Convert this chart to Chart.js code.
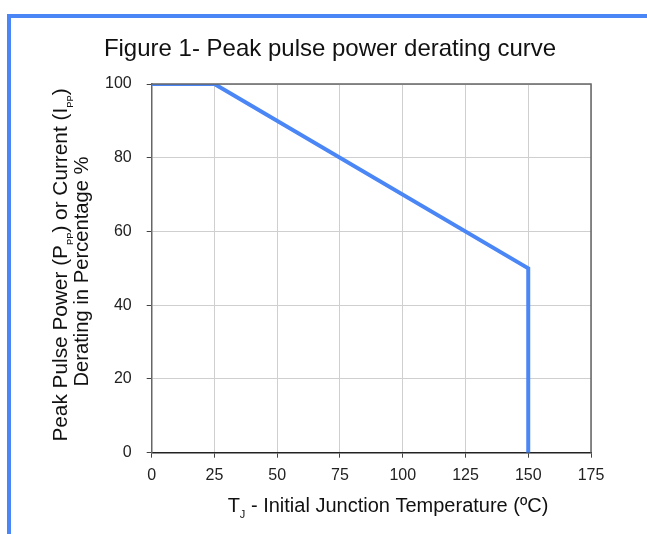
<!DOCTYPE html>
<html>
<head>
<meta charset="utf-8">
<script src="https://cdn.jsdelivr.net/npm/chart.js@4"></script>
<style>
  html, body { margin: 0; padding: 0; background: #fff; }
  #wrap { position: relative; width: 647px; height: 534px; }
  #frame { position: absolute; left: 7px; top: 14px; right: 0; bottom: 0;
           border-top: 4px solid #4a86f5; border-left: 4px solid #4a86f5; }
  canvas { position: absolute; left: 0; top: 0; }
</style>
</head>
<body>
<div id="wrap">
  <div id="frame"></div>
  <canvas id="chart" width="647" height="534"></canvas>
</div>
<script>
// derating curve
const tempC = [0, 25, 150, 150];
const deratingPct = [100, 100, 50, 0];
const xTicks = [0, 25, 50, 75, 100, 125, 150, 175];
const yTicks = [0, 20, 40, 60, 80, 100];

const FONT = '"Liberation Sans", Arial, sans-serif';

// text with subscripts: parts = [[text, subScale], ...], 0 = normal
function drawRich(ctx, parts, x, y, size) {
    let total = 0;
    parts.forEach(p => {
        ctx.font = (p[1] ? size * p[1] : size) + 'px ' + FONT;
        total += ctx.measureText(p[0]).width;
    });
    let cx = x - total / 2;
    parts.forEach(p => {
        ctx.font = (p[1] ? size * p[1] : size) + 'px ' + FONT;
        ctx.fillText(p[0], cx, p[1] ? y + size * 0.3 : y);
        cx += ctx.measureText(p[0]).width;
    });
}

const labelsPlugin = {
    id: 'labels',
    afterDraw(chart) {
        const ctx = chart.ctx;
        const a = chart.chartArea;
        ctx.save();
        // box around plot
        ctx.strokeStyle = '#666';
        ctx.lineWidth = 1.5;
        ctx.beginPath();
        ctx.moveTo(a.left, a.top);
        ctx.lineTo(a.right, a.top);
        ctx.lineTo(a.right, a.bottom);
        ctx.stroke();

        ctx.fillStyle = '#111';
        ctx.textBaseline = 'alphabetic';
        ctx.textAlign = 'left';
        drawRich(ctx, [['Figure 1- Peak pulse power derating curve', 0]], 330, 56, 24);
        drawRich(ctx, [['T', 0], ['J', 0.55], [' - Initial Junction Temperature (ºC)', 0]], 388, 512, 20);

        ctx.save();
        ctx.translate(67, 265);
        ctx.rotate(-Math.PI / 2);
        drawRich(ctx, [['Peak Pulse Power (P', 0], ['PP', 0.45], [') or Current (I', 0], ['PP', 0.45], [')', 0]], 0, 0, 20.8);
        ctx.restore();
        ctx.save();
        ctx.translate(88, 271.5);
        ctx.rotate(-Math.PI / 2);
        drawRich(ctx, [['Derating in Percentage %', 0]], 0, 0, 20.2);
        ctx.restore();
        ctx.restore();
    }
};

new Chart(document.getElementById('chart'), {
    type: 'scatter',
    data: {
        datasets: [{
            data: tempC.map((t, i) => ({ x: t, y: deratingPct[i] })),
            showLine: true,
            borderColor: '#4a86f5',
            borderWidth: 4,
            pointRadius: 0,
            tension: 0
        }]
    },
    options: {
        responsive: false,
        animation: false,
        layout: { padding: { top: 84, right: 56, left: 0, bottom: 0 } },
        plugins: { legend: { display: false }, tooltip: { enabled: false } },
        scales: {
            x: {
                type: 'linear',
                min: 0, max: 175,
                afterFit: s => { s.height = 81.3; },
                afterBuildTicks: s => { s.ticks = xTicks.map(v => ({ value: v })); },
                grid: { color: '#cfcfcf', tickColor: '#444', tickLength: 5 },
                border: { color: '#222', width: 1.5 },
                ticks: { color: '#222', padding: 8, maxRotation: 0, font: { family: FONT, size: 16 } }
            },
            y: {
                min: 0, max: 100,
                afterFit: s => { s.width = 151.7; },
                afterBuildTicks: s => { s.ticks = yTicks.map(v => ({ value: v })); },
                grid: { color: '#cfcfcf', tickColor: '#444', tickLength: 5 },
                border: { color: '#666', width: 1.5 },
                ticks: { color: '#222', padding: 15, font: { family: FONT, size: 16 } }
            }
        }
    },
    plugins: [labelsPlugin]
});
</script>
</body>
</html>
